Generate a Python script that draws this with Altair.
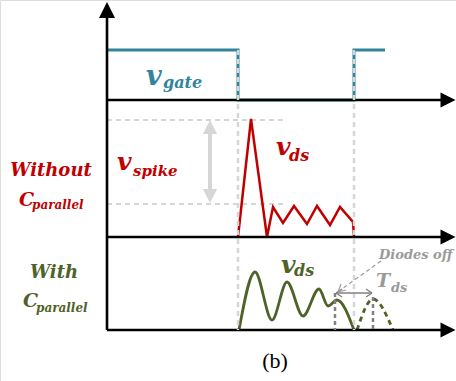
import altair as alt
import pandas as pd

W, H = 456, 381

# ---------------- schematic data (drawing units = picture pixels) ----------------
# gate signal
gate_x = [107, 238, 238, 354, 354, 385]
gate_y = [50, 50, 100, 100, 50, 50]

# v_ds without C_parallel (red)
red_x = [238, 251, 267, 273, 283, 294, 307, 317, 330, 340, 353, 354]
red_y = [237, 119, 237, 207, 223, 206, 224, 206, 225, 207, 222, 237]

# v_ds with C_parallel (green, solid)
green_x = [239, 255, 272, 287, 303, 319, 328, 337, 354]
green_y = [330, 272, 320, 282, 316, 289, 306, 300, 330]

# v_ds with C_parallel (green, dashed, diodes off)
goff_x = [357, 373, 393]
goff_y = [330, 299, 330]

# black axes: segments
axis_seg = pd.DataFrame({
    "x": [107, 107, 107, 107],
    "y": [330, 100, 237, 330],
    "x2": [107, 443, 443, 443],
    "y2": [14, 100, 237, 330],
})
arrow_up = pd.DataFrame({"x": [107], "y": [10]})
arrow_right = pd.DataFrame({"x": [448, 448, 448], "y": [100, 237, 330]})

# light grey dashed guides
vguide = pd.DataFrame({"x": [238, 354], "y": [50, 50], "x2": [238, 354], "y2": [330, 330]})
hguide = pd.DataFrame({"x": [107, 107], "y": [120, 204], "x2": [284, 284], "y2": [120, 204]})

# v_spike double arrow
spike_shaft = pd.DataFrame({"x": [210], "y": [131], "x2": [210], "y2": [192]})
spike_heads_up = pd.DataFrame({"x": [210], "y": [127]})
spike_heads_dn = pd.DataFrame({"x": [210], "y": [196]})

# dark grey dashed markers (diode-off interval)
dmark = pd.DataFrame({"x": [335, 373], "y": [293, 297], "x2": [335, 373], "y2": [330, 330]})

# T_ds arrow (line + open heads)
tds = pd.DataFrame({
    "x":  [336, 336, 336, 372, 372],
    "y":  [293, 293, 293, 293, 293],
    "x2": [372, 342, 342, 366, 366],
    "y2": [293, 289, 297, 289, 297],
})
# leader line from "Diodes off"
leader = pd.DataFrame({"x": [381], "y": [261], "x2": [339], "y2": [291]})
leader_head = pd.DataFrame({
    "x": [338, 338], "y": [292, 292], "x2": [346, 341], "y2": [290, 284],
})

TEAL = "#31849B"
RED = "#C00000"
GREEN = "#4F6228"
LGREY = "#D6D6D6"
DGREY = "#808080"
MGREY = "#9A9A9A"

xs = alt.Scale(domain=[0, W], nice=False, zero=False)
ys = alt.Scale(domain=[H, 0], nice=False, zero=False)


def X(f="x"):
    return alt.X(f, type="quantitative", scale=xs, axis=None)


def Y(f="y"):
    return alt.Y(f, type="quantitative", scale=ys, axis=None)


def line(xv, yv, color, width, dash=None, interp="linear"):
    df = pd.DataFrame({"x": xv, "y": yv, "o": list(range(len(xv)))})
    kw = dict(color=color, strokeWidth=width, interpolate=interp, strokeCap="butt", strokeJoin="miter")
    if dash:
        kw["strokeDash"] = dash
    return alt.Chart(df).mark_line(**kw).encode(x=X(), y=Y(), order="o:Q")


def segs(df, color, width, dash=None, cap="butt"):
    kw = dict(color=color, strokeWidth=width, strokeCap=cap)
    if dash:
        kw["strokeDash"] = dash
    return alt.Chart(df).mark_rule(**kw).encode(x=X(), y=Y(), x2="x2:Q", y2="y2:Q")


def head(df, path, size, color):
    return alt.Chart(df).mark_point(shape=path, size=size, filled=True, color=color,
                                    opacity=1, strokeWidth=0).encode(x=X(), y=Y())


def label(txt, x, y, size, color, align="left", font="DejaVu Serif", style="italic", weight="bold"):
    df = pd.DataFrame({"x": [x], "y": [y], "t": [txt]})
    return alt.Chart(df).mark_text(font=font, fontStyle=style, fontWeight=weight, fontSize=size,
                                   color=color, align=align, baseline="alphabetic").encode(
        x=X(), y=Y(), text="t:N")


layers = [
    # light grey horizontal guides
    segs(hguide, LGREY, 2, [5, 4]),
    # spike arrow
    segs(spike_shaft, LGREY, 4),
    head(spike_heads_up, "M0,-1L1,1L-1,1Z", 200, LGREY),
    head(spike_heads_dn, "M0,1L1,-1L-1,-1Z", 200, LGREY),
    # waveforms
    line(gate_x, gate_y, TEAL, 3),
    line(red_x, red_y, RED, 2.5),
    line(green_x, green_y, GREEN, 2.8, interp="monotone"),
    line(goff_x, goff_y, GREEN, 2.8, dash=[5, 4], interp="monotone"),
    # black axes
    segs(axis_seg, "black", 2.6),
    head(arrow_up, "M0,-1L1,1L-1,1Z", 256, "black"),
    head(arrow_right, "M1,0L-1,-1L-1,1Z", 225, "black"),
    # grey dashed verticals on top
    segs(vguide, LGREY, 2.5, [5, 4]),
    segs(dmark, DGREY, 2.5, [4, 3]),
    segs(tds, DGREY, 1.4),
    segs(leader, MGREY, 1.2, [4, 3]),
    segs(leader_head, MGREY, 1.2),
    # labels
    label("v", 146, 85, 27, TEAL),
    label("gate", 163, 88, 16, TEAL),
    label("v", 117, 170, 25, RED),
    label("spike", 133, 176, 15, RED),
    label("v", 276, 155, 25, RED),
    label("ds", 289, 161, 16, RED),
    label("v", 281, 273, 25, GREEN),
    label("ds", 294, 276, 16, GREEN),
    label("Without", 51, 176, 18, RED, align="center"),
    label("C", 19, 206, 19, RED),
    label("parallel", 32, 209, 12, RED),
    label("With", 54, 278, 18, GREEN, align="center"),
    label("C", 23, 307, 19, GREEN),
    label("parallel", 36, 312, 12, GREEN),
    label("T", 376, 287, 19, MGREY),
    label("ds", 391, 292, 13, MGREY),
    label("Diodes off", 379, 259, 13, MGREY),
    label("(b)", 275, 368, 22, "black", align="center", font="Liberation Serif", style="normal", weight="normal"),
]

chart = alt.layer(*layers).properties(
    width=W, height=H, padding=0, autosize=alt.AutoSizeParams(type="none"),
).configure_view(stroke=None).configure(background="white")

chart.save("out.html", embed_options={"renderer": "svg", "actions": False})
